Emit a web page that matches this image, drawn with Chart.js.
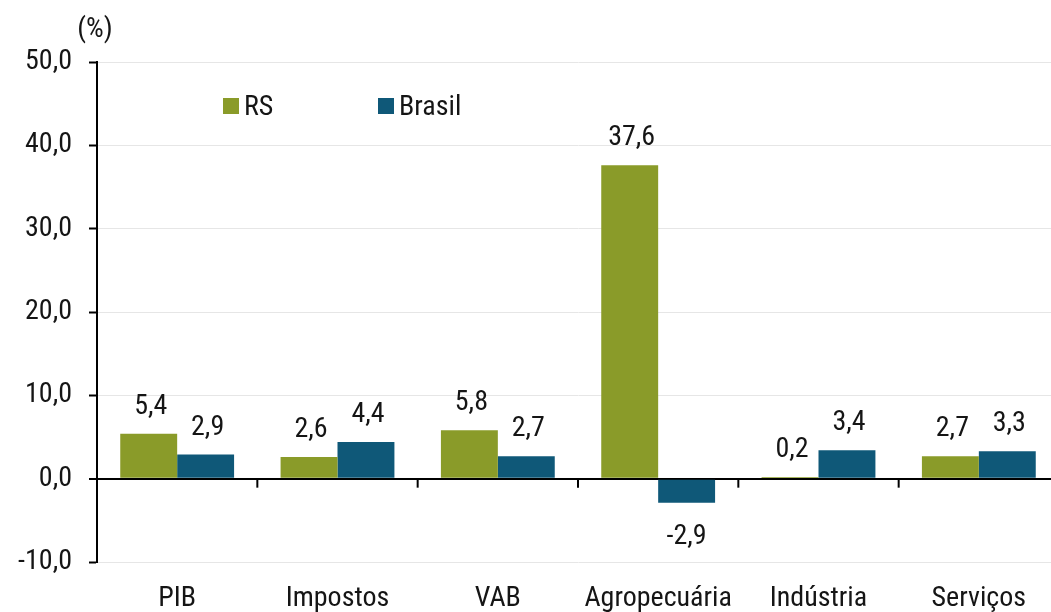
<!DOCTYPE html>
<html lang="pt-BR">
<head>
  <meta charset="UTF-8" />
  <title>PIB RS x Brasil</title>
  <script src="https://cdn.jsdelivr.net/npm/chart.js"></script>
  <style>
    * { margin: 0; padding: 0; box-sizing: border-box; }
    body { background: #fff; width: 1051px; height: 612px; overflow: hidden; }
  </style>
</head>
<body>
  <!-- a área do gráfico passa um pouco da borda direita, como no original -->
  <canvas id="grafico" width="1060" height="612"></canvas>

  <script>
    const categorias = ['PIB', 'Impostos', 'VAB', 'Agropecuária', 'Indústria', 'Serviços'];
    const valoresRS = [5.4, 2.6, 5.8, 37.6, 0.2, 2.7];
    const valoresBrasil = [2.9, 4.4, 2.7, -2.9, 3.4, 3.3];
    const ticksY = [-10, 0, 10, 20, 30, 40, 50];

    const corRS = '#8a9b29';
    const corBrasil = '#0f5878';
    const corTexto = '#151515';
    const fonte = "'Roboto Condensed', 'Liberation Sans Narrow', 'DejaVu Sans Condensed', Roboto, sans-serif";
    const tam = 28;

    const formata = v => v.toFixed(1).replace('.', ',');

    // rótulos, legenda, (%) e marcas do eixo zero
    const extras = {
      id: 'extras',
      afterDatasetsDraw(chart) {
        const { ctx, scales } = chart;
        const x = scales.x, y = scales.y;
        ctx.save();
        ctx.font = tam + 'px ' + fonte;
        ctx.fillStyle = corTexto;
        ctx.textAlign = 'center';
        ctx.textBaseline = 'alphabetic';
        chart.data.datasets.forEach((ds, i) => {
          const meta = chart.getDatasetMeta(i);
          meta.data.forEach((bar, j) => {
            const v = ds.data[j];
            if (v >= 0) {
              ctx.fillText(formata(v), bar.x + 2, bar.y - 20);
            } else {
              ctx.fillText(formata(v), bar.x, bar.y + 41);
            }
          });
        });

        // marcas entre categorias no zero
        const y0 = y.getPixelForValue(0);
        ctx.strokeStyle = '#000';
        ctx.lineWidth = 2;
        for (let i = 1; i < categorias.length; i++) {
          const xm = (x.getPixelForValue(i - 1) + x.getPixelForValue(i)) / 2;
          ctx.beginPath();
          ctx.moveTo(xm, y0);
          ctx.lineTo(xm, y0 + 9);
          ctx.stroke();
        }

        // legenda
        const itens = [
          { txt: 'RS', cor: corRS, x: 223 },
          { txt: 'Brasil', cor: corBrasil, x: 378 }
        ];
        ctx.textAlign = 'left';
        itens.forEach(it => {
          ctx.fillStyle = it.cor;
          ctx.fillRect(it.x, 98, 16, 16);
          ctx.fillStyle = corTexto;
          ctx.fillText(it.txt, it.x + 21, 115);
        });

        // unidade
        ctx.textAlign = 'center';
        ctx.fillText('(%)', 95, 37);
        ctx.restore();
      }
    };

    new Chart(document.getElementById('grafico'), {
      type: 'bar',
      data: {
        labels: categorias,
        datasets: [
          { label: 'RS', data: valoresRS, backgroundColor: corRS },
          { label: 'Brasil', data: valoresBrasil, backgroundColor: corBrasil }
        ]
      },
      options: {
        responsive: false,
        animation: false,
        maintainAspectRatio: false,
        layout: { padding: { top: 62, right: 1, left: 0, bottom: 0 } },
        datasets: { bar: { categoryPercentage: 0.71, barPercentage: 1.0 } },
        plugins: { legend: { display: false }, tooltip: { enabled: false } },
        scales: {
          x: {
            grid: { display: false, drawTicks: false },
            border: { display: false },
            ticks: { color: corTexto, font: { family: fonte, size: tam }, padding: 20, maxRotation: 0 },
            afterFit(s) { s.height = 50; }
          },
          y: {
            min: -10,
            max: 50,
            afterBuildTicks(s) { s.ticks = ticksY.map(v => ({ value: v })); },
            ticks: {
              color: corTexto,
              font: { family: fonte, size: tam },
              padding: 17,
              callback: v => formata(v)
            },
            grid: {
              color: c => (c.tick && c.tick.value === 0 ? '#000' : '#e6e6e6'),
              lineWidth: c => (c.tick && c.tick.value === 0 ? 2 : 1),
              tickColor: '#000',
              tickLength: 8,
              tickWidth: 2
            },
            border: { display: true, color: '#000', width: 2 },
            afterFit(s) { s.width = 97; }
          }
        }
      },
      plugins: [extras]
    });
  </script>
</body>
</html>
